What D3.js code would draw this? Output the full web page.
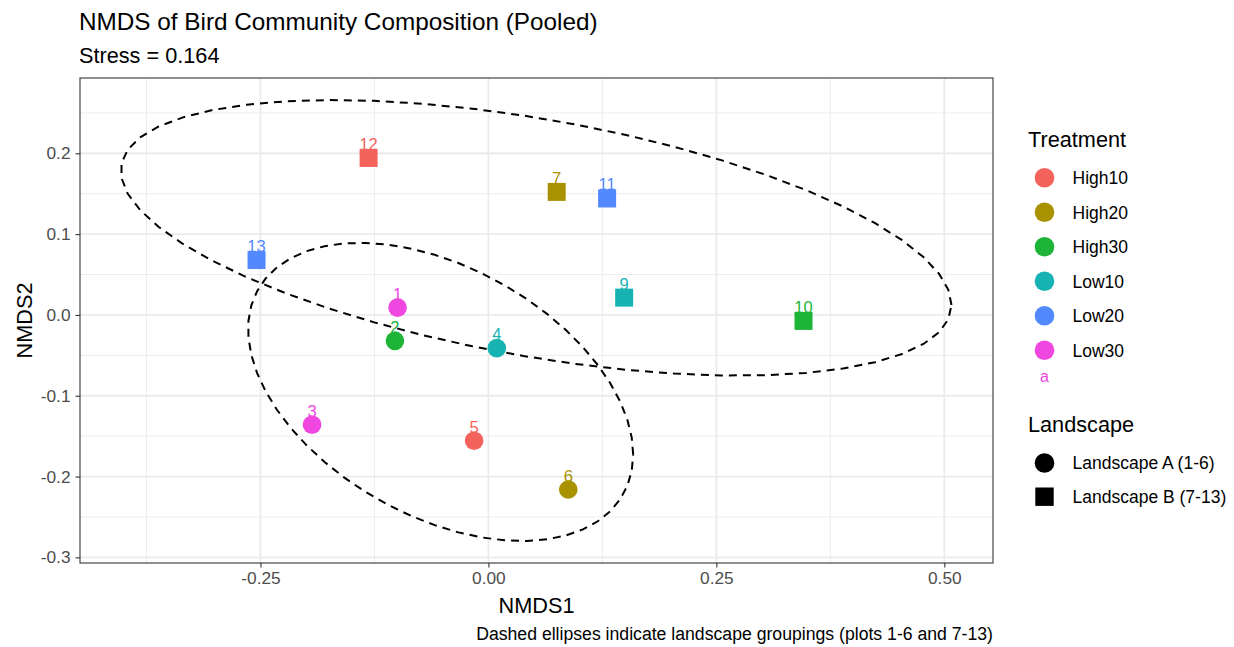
<!DOCTYPE html>
<html>
<head>
<meta charset="utf-8">
<script src="https://cdn.jsdelivr.net/npm/d3@7"></script>
<style>
  body { margin: 0; background: #fff; }
  text { font-family: "Liberation Sans", Arial, sans-serif; }
</style>
</head>
<body>
<div id="chart"></div>
<script>
// plot scores (there is no plot 8)
var plots = [1, 2, 3, 4, 5, 6, 7, 9, 10, 11, 12, 13];
var nmds1 = [-0.0996, -0.1025, -0.1934, 0.0092, -0.0157, 0.0876, 0.0749, 0.1489, 0.3456, 0.1302, -0.1314, -0.2543];
var nmds2 = [0.0090, -0.0321, -0.1358, -0.0411, -0.1556, -0.2160, 0.1522, 0.0214, -0.0074, 0.1441, 0.1942, 0.0679];
var treatment = ["Low30", "High30", "Low30", "Low10", "High10", "High20", "High20", "Low10", "High30", "Low20", "High10", "Low20"];
var landscape = ["A", "A", "A", "A", "A", "A", "B", "B", "B", "B", "B", "B"];

var treatments = ["High10", "High20", "High30", "Low10", "Low20", "Low30"];
var treatmentColors = ["#F3635C", "#A89200", "#1DB437", "#17B3B3", "#5289FF", "#EF47DF"];
var landscapes = ["A", "B"];
var landscapeLabels = ["Landscape A (1-6)", "Landscape B (7-13)"];

var xTicks = [-0.25, 0, 0.25, 0.5];
var yTicks = [-0.3, -0.2, -0.1, 0, 0.1, 0.2];
var xMinor = [-0.375, -0.125, 0.125, 0.375];
var yMinor = [-0.25, -0.15, -0.05, 0.05, 0.15, 0.25];

var ellipseLevel = 0.8;

var width = 1234, height = 647;
var panel = { left: 80, right: 993, top: 78, bottom: 563 };

var svg = d3.select("#chart")
    .append("svg")
    .attr("width", width)
    .attr("height", height);

svg.append("rect").attr("width", width).attr("height", height).attr("fill", "#fff");

// normal-theory ellipse around a group, like stat_ellipse(type = "norm")
function ellipse(group) {
    var idx = d3.range(plots.length).filter(i => landscape[i] == group);
    var n = idx.length;
    var mx = d3.mean(idx, i => nmds1[i]),
        my = d3.mean(idx, i => nmds2[i]);
    var a = 0, b = 0, c = 0;
    idx.forEach(function(i) {
        var dx = nmds1[i] - mx, dy = nmds2[i] - my;
        a += dx * dx; b += dx * dy; c += dy * dy;
    });
    a /= n - 1; b /= n - 1; c /= n - 1;
    var dfd = n - 1;
    var q = dfd / 2 * (Math.pow(1 - ellipseLevel, -2 / dfd) - 1); // qf(level, 2, dfd)
    var r = Math.sqrt(2 * q);
    var r11 = Math.sqrt(a), r12 = b / r11, r22 = Math.sqrt(c - r12 * r12);
    return d3.range(52).map(function(k) {
        var t = k / 51 * 2 * Math.PI;
        return [mx + r * Math.cos(t) * r11, my + r * (Math.cos(t) * r12 + Math.sin(t) * r22)];
    });
}

var ellipses = landscapes.map(ellipse);

// ggplot-like 5% expansion of everything drawn
var allX = nmds1.concat(...ellipses.map(e => e.map(p => p[0])));
var allY = nmds2.concat(...ellipses.map(e => e.map(p => p[1])));
var xe = d3.extent(allX), ye = d3.extent(allY);
var xPad = (xe[1] - xe[0]) * 0.05, yPad = (ye[1] - ye[0]) * 0.05;

var x = d3.scaleLinear([xe[0] - xPad, xe[1] + xPad], [panel.left, panel.right]);
var y = d3.scaleLinear([ye[0] - yPad, ye[1] + yPad], [panel.bottom, panel.top]);
var color = d3.scaleOrdinal(treatments, treatmentColors);

// grid
var grid = svg.append("g");
grid.selectAll(".xminor").data(xMinor).join("line")
    .attr("x1", d => x(d)).attr("x2", d => x(d))
    .attr("y1", panel.top).attr("y2", panel.bottom)
    .attr("stroke", "#EBEBEB").attr("stroke-width", 0.9);
grid.selectAll(".yminor").data(yMinor).join("line")
    .attr("y1", d => y(d)).attr("y2", d => y(d))
    .attr("x1", panel.left).attr("x2", panel.right)
    .attr("stroke", "#EBEBEB").attr("stroke-width", 0.9);
grid.selectAll(".xmajor").data(xTicks).join("line")
    .attr("x1", d => x(d)).attr("x2", d => x(d))
    .attr("y1", panel.top).attr("y2", panel.bottom)
    .attr("stroke", "#EBEBEB").attr("stroke-width", 1.8);
grid.selectAll(".ymajor").data(yTicks).join("line")
    .attr("y1", d => y(d)).attr("y2", d => y(d))
    .attr("x1", panel.left).attr("x2", panel.right)
    .attr("stroke", "#EBEBEB").attr("stroke-width", 1.8);

// ellipses
var line = d3.line().x(d => x(d[0])).y(d => y(d[1]));
svg.append("g").selectAll("path").data(ellipses).join("path")
    .attr("d", line)
    .attr("fill", "none")
    .attr("stroke", "#000")
    .attr("stroke-width", 2)
    .attr("stroke-dasharray", "8,6");

// points
var idx = d3.range(plots.length);
var pts = svg.append("g");
pts.selectAll("circle").data(idx.filter(i => landscape[i] == "A")).join("circle")
    .attr("cx", i => x(nmds1[i]))
    .attr("cy", i => y(nmds2[i]))
    .attr("r", 9.3)
    .attr("fill", i => color(treatment[i]));
pts.selectAll("rect").data(idx.filter(i => landscape[i] == "B")).join("rect")
    .attr("x", i => x(nmds1[i]) - 9)
    .attr("y", i => y(nmds2[i]) - 9)
    .attr("width", 18)
    .attr("height", 18)
    .attr("fill", i => color(treatment[i]));

svg.append("g").selectAll("text").data(idx).join("text")
    .attr("x", i => x(nmds1[i]))
    .attr("y", i => y(nmds2[i]) - 8)
    .attr("text-anchor", "middle")
    .attr("font-size", 16.5)
    .attr("fill", i => color(treatment[i]))
    .text(i => plots[i]);

// panel border
svg.append("rect")
    .attr("x", panel.left).attr("y", panel.top)
    .attr("width", panel.right - panel.left)
    .attr("height", panel.bottom - panel.top)
    .attr("fill", "none")
    .attr("stroke", "#333")
    .attr("stroke-width", 1.1);

// axes
var xAxis = g => g
    .attr("transform", `translate(0,${panel.bottom})`)
    .call(d3.axisBottom(x).tickValues(xTicks).tickSize(4.5).tickPadding(4).tickFormat(d => d.toFixed(2)))
    .call(g => g.select(".domain").remove())
    .call(g => g.selectAll(".tick line").attr("stroke", "#333").attr("stroke-width", 1.1))
    .call(g => g.selectAll(".tick text").attr("fill", "#4D4D4D").attr("font-size", 17.3).attr("font-family", null));

var yAxis = g => g
    .attr("transform", `translate(${panel.left},0)`)
    .call(d3.axisLeft(y).tickValues(yTicks).tickSize(4.5).tickPadding(5).tickFormat(d => d.toFixed(1)))
    .call(g => g.select(".domain").remove())
    .call(g => g.selectAll(".tick line").attr("stroke", "#333").attr("stroke-width", 1.1))
    .call(g => g.selectAll(".tick text").attr("fill", "#4D4D4D").attr("font-size", 17.3).attr("font-family", null));

svg.append("g").call(xAxis);
svg.append("g").call(yAxis);

// titles
svg.append("text").attr("x", 79).attr("y", 29.5).attr("font-size", 24.3).text("NMDS of Bird Community Composition (Pooled)");
svg.append("text").attr("x", 79).attr("y", 63).attr("font-size", 21.7).text("Stress = 0.164");
svg.append("text").attr("x", (panel.left + panel.right) / 2).attr("y", 613).attr("text-anchor", "middle")
    .attr("font-size", 21.7).text("NMDS1");
svg.append("text").attr("transform", `translate(31.5,${(panel.top + panel.bottom) / 2}) rotate(-90)`)
    .attr("text-anchor", "middle").attr("font-size", 21.7).text("NMDS2");
svg.append("text").attr("x", panel.right).attr("y", 639.5).attr("text-anchor", "end")
    .attr("font-size", 17.65).text("Dashed ellipses indicate landscape groupings (plots 1-6 and 7-13)");

// legends
var leg = svg.append("g");
leg.append("text").attr("x", 1028).attr("y", 146.7).attr("font-size", 21.7).text("Treatment");
var tItems = leg.selectAll(".titem").data(treatments).join("g")
    .attr("transform", (d, i) => `translate(1044.5,${177.7 + i * 34.5})`);
tItems.append("circle").attr("r", 9.8).attr("fill", d => color(d));
tItems.append("text").attr("x", 28).attr("dy", "0.36em").attr("font-size", 17.5).text(d => d);
leg.append("text").attr("x", 1044.5).attr("y", 381.5).attr("text-anchor", "middle")
    .attr("font-size", 16).attr("fill", color("Low30")).text("a");

leg.append("text").attr("x", 1028).attr("y", 431.5).attr("font-size", 21.7).text("Landscape");
var lItems = leg.selectAll(".litem").data(landscapes).join("g")
    .attr("transform", (d, i) => `translate(1044.5,${463 + i * 33.7})`);
lItems.filter(d => d == "A").append("circle").attr("r", 9.8).attr("fill", "#000");
lItems.filter(d => d == "B").append("rect").attr("x", -9.2).attr("y", -9.2).attr("width", 18.4).attr("height", 18.4).attr("fill", "#000");
lItems.append("text").attr("x", 28).attr("dy", "0.36em").attr("font-size", 17.5).text((d, i) => landscapeLabels[i]);
</script>
</body>
</html>
